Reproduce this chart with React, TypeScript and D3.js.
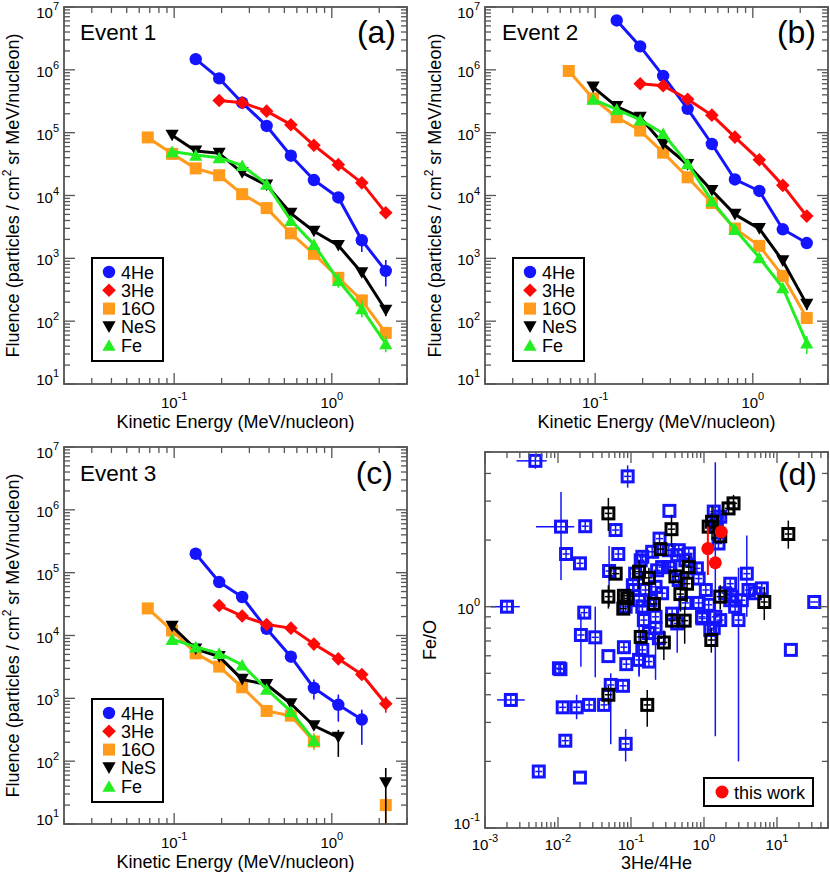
import React from "react";
import * as d3 from "d3";

const FONT = "'Liberation Sans', Arial, Helvetica, sans-serif";

// ---------- Spectra data (panels a-c) ----------
const energy = [0.068, 0.097, 0.137, 0.193, 0.27, 0.386, 0.55, 0.77, 1.1, 1.55, 2.2];
const species = ["4He", "3He", "16O", "NeS", "Fe"];
const speciesColors = ["#1414ff", "#ff0808", "#ff9a1a", "#000000", "#22ee22"];
const speciesMarkers = ["circle", "diamond", "square", "tdown", "tup"];

// Event 1
const e1He4 = [null, null, 1.48e6, 7.3e5, 3.0e5, 1.28e5, 4.3e4, 1.76e4, 9.3e3, 1.94e3, 630];
const e1He3 = [null, null, null, 3.25e5, 3.0e5, 2.2e5, 1.34e5, 6.3e4, 3.1e4, 1.59e4, 5.3e3];
const e1O16 = [8.4e4, 4.6e4, 2.7e4, 2.1e4, 1.05e4, 6.3e3, 2.5e3, 1.18e3, 490, 214, 65];
const e1NeS = [null, 9.1e4, 5.1e4, 4.7e4, 2.3e4, 1.46e4, 5.2e3, 2.7e3, 1.6e3, 590, 149];
const e1Fe = [null, 5.0e4, 4.4e4, 4.0e4, 3.0e4, 1.52e4, 4.0e3, 1.67e3, 445, 158, 44];
// [species index, energy index, low, high]
const e1Errors = [
  [0, 8, 7.6e3, 1.1e4], [0, 9, 1.26e3, 2.4e3], [0, 10, 357, 940],
  [4, 8, 340, 575], [4, 9, 115, 215], [4, 10, 32, 59], [3, 10, 120, 180], [2, 10, 52, 78],
];

// Event 2
const e2He4 = [null, null, 6.1e6, 2.36e6, 8.0e5, 2.4e5, 6.6e4, 1.8e4, 1.18e4, 2.9e3, 1.75e3];
const e2He3 = [null, null, null, 6.0e5, 5.6e5, 3.4e5, 1.9e5, 8.5e4, 3.7e4, 1.45e4, 4.7e3];
const e2O16 = [9.6e5, 3.5e5, 1.76e5, 1.08e5, 4.8e4, 1.95e4, 7.6e3, 2.98e3, 1.58e3, 525, 112];
const e2NeS = [null, 5.3e5, 2.6e5, 1.76e5, 6.6e4, 3.1e4, 1.2e4, 5.0e3, 2.96e3, 910, 185];
const e2Fe = [null, 3.4e5, 2.35e5, 1.6e5, 9.7e4, 3.2e4, 8.2e3, 2.9e3, 1.03e3, 340, 45];
const e2Errors = [[4, 10, 30, 58], [4, 9, 280, 400], [3, 10, 150, 225]];

// Event 3
const e3He4 = [null, null, 2.0e5, 7.1e4, 4.1e4, 1.28e4, 4.6e3, 1.46e3, 790, 460, null];
const e3He3 = [null, null, null, 3.0e4, 2.04e4, 1.5e4, 1.31e4, 7.3e3, 4.25e3, 2.4e3, 820];
const e3O16 = [2.7e4, 1.2e4, 5.2e3, 3.2e3, 1.5e3, 630, 530, 206, null, null, 20];
const e3NeS = [null, 1.4e4, 6.1e3, 4.6e3, 2.0e3, 1.66e3, 820, 366, 240, null, 45];
const e3Fe = [null, 8.7e3, 6.6e3, 5.2e3, 3.4e3, 1.4e3, 620, 215, null, null, null];
const e3Errors = [
  [0, 7, 955, 2.0e3], [0, 8, 425, 1150], [0, 9, 182, 660], [1, 10, 590, 1070],
  [3, 8, 117, 316], [3, 10, 10, 78], [2, 10, 10, 27], [2, 7, 150, 280], [4, 7, 160, 260],
];

const energyDomain = [0.02, 3];
const fluenceDomain = [10, 1e7];

// ---------- Scatter data (panel d) ----------
const blueX = [
  0.0049, 0.090, 0.011, 0.0236, 0.0129, 0.020, 0.0020, 0.00226, 0.0103, 0.0108,
  0.0116, 0.018, 0.0267, 0.0428, 0.0126, 0.00545, 0.020, 0.0845, 0.0229, 0.0206,
  0.0324, 0.049, 0.080, 0.0863, 0.0777, 0.0528, 0.0615, 0.067, 0.0501, 0.336,
  0.246, 0.195, 0.136, 0.106, 0.129, 0.143, 0.150, 0.217, 0.267, 0.33,
  0.452, 0.62, 0.80, 0.45, 0.217, 0.228, 0.114, 0.176, 0.129, 0.176,
  0.241, 0.366, 0.43, 0.556, 0.845, 0.94, 1.43, 1.36, 1.16, 1.36,
  1.50, 1.58, 2.29, 2.67, 2.97, 3.86, 4.07, 6.2, 15.5, 32.4,
  1.95, 2.4, 0.143, 0.33, 0.347, 0.11, 0.158, 0.185, 0.0845, 0.43,
  0.556, 0.267, 1.06, 0.95, 1.22, 1.67, 2.29, 3.3, 5.0, 0.845,
  1.43, 1.67, 0.143, 0.217,
];
const blueY = [
  4.56, 3.88, 2.30, 2.31, 1.73, 1.57, 1.0, 0.379, 0.527, 0.522,
  0.351, 0.351, 0.36, 0.36, 0.248, 0.180, 0.169, 0.240, 0.94, 0.745,
  0.727, 0.598, 0.656, 0.55, 0.439, 0.443, 2.22, 1.73, 1.45, 2.71,
  2.03, 1.77, 1.62, 1.25, 1.07, 1.0, 0.87, 0.90, 1.15, 1.51,
  1.80, 1.74, 1.49, 1.32, 1.23, 1.46, 1.41, 0.76, 0.575, 0.565,
  0.72, 0.93, 0.84, 1.04, 1.04, 0.90, 0.90, 0.80, 1.02, 2.69,
  2.46, 1.93, 1.27, 1.0, 0.87, 1.41, 1.19, 1.21, 0.638, 1.05,
  1.15, 1.11, 1.68, 1.80, 1.51, 1.19, 1.19, 1.07, 1.0, 1.71,
  1.62, 1.51, 1.19, 0.885, 0.785, 0.87, 1.07, 1.07, 1.15, 1.34,
  2.30, 2.55, 0.638, 0.80,
];
// [index, yLow, yHigh, xLow, xHigh] (null = only the small bar inside the box)
const blueErrors = [
  [0, 4.2, 4.9, 0.0027, 0.0070], [1, 3.45, 4.35, null, null], [2, 1.32, 3.30, 0.0050, 0.0167],
  [6, null, null, 0.0012, 0.0030], [7, null, null, 0.00146, 0.0035], [11, 0.31, 0.40, null, null],
  [17, 0.20, 0.28, null, null], [19, 0.536, 0.93, null, null], [20, 0.48, 1.0, null, null],
  [25, 0.239, 0.50, null, null], [28, 1.0, 1.88, null, null], [34, 0.483, 1.25, null, null],
  [37, 0.467, 1.05, null, null], [56, 0.26, 4.5, null, null], [64, 0.20, 1.5, null, null],
  [65, 0.9, 2.1, null, null], [52, 0.62, 1.0, null, null], [48, 0.49, 0.70, null, null],
  [69, 1.05, 1.05, 28.5, 36.5],
];
const blueNoBar = [16, 21, 29, 68];

const blackX = [
  0.049, 0.359, 0.254, 0.0617, 0.129, 0.176, 0.62, 0.406, 0.586, 0.475,
  0.049, 0.080, 0.089, 0.0785, 0.206, 0.136, 0.282, 0.366, 0.544, 0.049,
  0.167, 1.26, 1.67, 6.7, 14.3, 1.29, 1.67, 2.17, 2.54, 1.16,
];
const blackY = [
  2.64, 2.24, 1.82, 1.41, 1.44, 1.35, 1.51, 1.37, 1.27, 1.14,
  1.11, 1.12, 1.09, 0.98, 1.03, 0.73, 0.689, 0.865, 0.865, 0.40,
  0.36, 0.707, 1.11, 1.05, 2.13, 2.42, 2.08, 2.78, 2.93, 2.30,
];
const blackErrors = [
  [0, 2.2, 3.1], [1, 1.86, 2.6], [24, 1.83, 2.45], [23, 0.87, 1.23], [21, 0.62, 0.80],
  [20, 0.287, 0.42], [16, 0.575, 0.78], [18, 0.68, 1.0], [25, 2.0, 2.85], [28, 2.6, 3.2],
  [22, 0.97, 1.25], [10, 0.98, 1.25], [19, 0.36, 0.44], [4, 1.2, 1.62], [5, 1.1, 1.5],
  [6, 1.35, 1.7], [8, 1.05, 1.45], [9, 0.95, 1.3],
];

const redX = [1.13, 1.43, 1.72];
const redY = [1.83, 1.58, 2.18];
const redYLo = [1.39, 1.5, 2.1];
const redYHi = [2.30, 1.66, 2.26];

const ratioXDomain = [0.001, 50];
const ratioYDomain = [0.1, 5];

// ---------- helpers ----------
const AXIS = "#555";

function logTicks(domain) {
  const [a, b] = domain;
  const majors = [];
  const minors = [];
  for (let n = Math.floor(Math.log10(a)); n <= Math.ceil(Math.log10(b)); n++) {
    for (let k = 1; k <= 9; k++) {
      const v = k * Math.pow(10, n);
      if (v >= a * 0.9999 && v <= b * 1.0001) (k === 1 ? majors : minors).push(v);
    }
  }
  return { majors, minors };
}

function Pow10({ v, x, y, anchor }) {
  const e = Math.round(Math.log10(v));
  return (
    <text x={x} y={y} fontSize={15} textAnchor={anchor} fill="#000">
      10<tspan dy={-8} fontSize={11}>{String(e)}</tspan>
    </text>
  );
}

function LogFrame({ xs, ys, box, xTickBase, yLabelRight }) {
  const xt = logTicks(xs.domain());
  const yt = logTicks(ys.domain());
  const { l, r, t, b } = box;
  const M = 11, m = 6;
  const out = [];
  xt.majors.forEach((v, i) => {
    const x = xs(v);
    out.push(<line key={"xM" + i} x1={x} x2={x} y1={b} y2={b - M} />);
    out.push(<line key={"xMt" + i} x1={x} x2={x} y1={t} y2={t + M} />);
  });
  xt.minors.forEach((v, i) => {
    const x = xs(v);
    out.push(<line key={"xm" + i} x1={x} x2={x} y1={b} y2={b - m} />);
    out.push(<line key={"xmt" + i} x1={x} x2={x} y1={t} y2={t + m} />);
  });
  yt.majors.forEach((v, i) => {
    const y = ys(v);
    out.push(<line key={"yM" + i} x1={l} x2={l + M} y1={y} y2={y} />);
    out.push(<line key={"yMr" + i} x1={r} x2={r - M} y1={y} y2={y} />);
  });
  yt.minors.forEach((v, i) => {
    const y = ys(v);
    out.push(<line key={"ym" + i} x1={l} x2={l + m} y1={y} y2={y} />);
    out.push(<line key={"ymr" + i} x1={r} x2={r - m} y1={y} y2={y} />);
  });
  return (
    <g>
      <g stroke={AXIS} strokeWidth={1.3}>{out}</g>
      <rect x={l} y={t} width={r - l} height={b - t} fill="none" stroke={AXIS} strokeWidth={1.8} />
      {xt.majors.map((v, i) => (
        <Pow10 key={"xl" + i} v={v} x={xs(v)} y={xTickBase} anchor="middle" />
      ))}
      {yt.majors.map((v, i) => (
        <Pow10
          key={"yl" + i}
          v={v}
          x={yLabelRight}
          y={Math.min(Math.max(ys(v) + 7, t + 11), b + 1)}
          anchor="end"
        />
      ))}
    </g>
  );
}

function Marker({ type, x, y, color }) {
  switch (type) {
    case "circle":
      return <circle cx={x} cy={y} r={6.2} fill={color} />;
    case "diamond":
      return <path d={`M${x},${y - 6.8}L${x + 6.8},${y}L${x},${y + 6.8}L${x - 6.8},${y}Z`} fill={color} />;
    case "square":
      return <rect x={x - 6} y={y - 6} width={12} height={12} fill={color} />;
    case "tdown":
      return <path d={`M${x - 6.6},${y - 5.6}L${x + 6.6},${y - 5.6}L${x},${y + 6}Z`} fill={color} />;
    default:
      return <path d={`M${x - 6.6},${y + 5.6}L${x + 6.6},${y + 5.6}L${x},${y - 6}Z`} fill={color} />;
  }
}

function SpectraPanel({ id, box, seriesList, errors, event, tag, yLabelX, xTickBase, xLabelBase, eventPos, tagPos, legendPos }) {
  const xs = d3.scaleLog().domain(energyDomain).range([box.l, box.r]);
  const ys = d3.scaleLog().domain(fluenceDomain).range([box.b, box.t]);
  const line = d3
    .line()
    .defined((d) => d[1] != null)
    .x((d) => xs(d[0]))
    .y((d) => ys(d[1]));
  const cy = (box.t + box.b) / 2;
  const cx = (box.l + box.r) / 2;
  return (
    <g>
      <defs>
        <clipPath id={id}>
          <rect x={box.l} y={box.t} width={box.r - box.l} height={box.b - box.t} />
        </clipPath>
      </defs>
      <text x={eventPos[0]} y={eventPos[1]} fontSize={22.5}>{event}</text>
      <text x={tagPos[0]} y={tagPos[1]} fontSize={32} textAnchor="end">{tag}</text>
      <g clipPath={`url(#${id})`}>
        {seriesList.map((vals, si) => {
          const pts = energy.map((e, i) => [e, vals[i]]);
          const color = speciesColors[si];
          return (
            <g key={si}>
              <path d={line(pts)} fill="none" stroke={color} strokeWidth={3} strokeLinejoin="round" />
              {errors
                .filter((er) => er[0] === si)
                .map((er, k) => (
                  <line key={k} x1={xs(energy[er[1]])} x2={xs(energy[er[1]])} y1={ys(er[2])} y2={ys(er[3])} stroke={color} strokeWidth={1.6} />
                ))}
              {pts
                .filter((p) => p[1] != null)
                .map((p, k) => (
                  <Marker key={k} type={speciesMarkers[si]} x={xs(p[0])} y={ys(p[1])} color={color} />
                ))}
            </g>
          );
        })}
      </g>
      <LogFrame xs={xs} ys={ys} box={box} xTickBase={xTickBase} yLabelRight={box.l - 5} />
      <text x={cx} y={xLabelBase} fontSize={18} textAnchor="middle">Kinetic Energy (MeV/nucleon)</text>
      <text transform={`translate(${yLabelX},${cy}) rotate(-90)`} fontSize={18} textAnchor="middle">
        Fluence (particles / cm<tspan dy={-8} fontSize={12}>2</tspan>
        <tspan dy={8}> sr MeV/nucleon)</tspan>
      </text>
      <g>
        <rect x={legendPos[0]} y={legendPos[1]} width={71} height={103} fill="#fff" stroke="#000" strokeWidth={2} />
        {species.map((s, i) => {
          const ry = legendPos[1] + 14 + i * 18.3;
          return (
            <g key={s}>
              <Marker type={speciesMarkers[i]} x={legendPos[0] + 17} y={ry} color={speciesColors[i]} />
              <text x={legendPos[0] + 29} y={ry + 6.5} fontSize={18}>{s}</text>
            </g>
          );
        })}
      </g>
    </g>
  );
}

function ScatterPanel() {
  const box = { l: 485, r: 828, t: 452, b: 828 };
  const xs = d3.scaleLog().domain(ratioXDomain).range([box.l, box.r]);
  const ys = d3.scaleLog().domain(ratioYDomain).range([box.b, box.t]);
  const S = 11;
  const drawSet = (X, Y, color, errs, noBar, prefix) =>
    X.map((xv, i) => {
      const px = xs(xv);
      const py = ys(Y[i]);
      const er = errs.find((e) => e[0] === i);
      const bars = [];
      if (!noBar.includes(i)) {
        const y1 = er && er[1] != null ? ys(er[1]) : py + 4.5;
        const y2 = er && er[2] != null ? ys(er[2]) : py - 4.5;
        const x1 = er && er[3] != null ? xs(er[3]) : px - 3.5;
        const x2 = er && er[4] != null ? xs(er[4]) : px + 3.5;
        bars.push(<line key="v" x1={px} x2={px} y1={y1} y2={y2} />);
        bars.push(<line key="h" x1={x1} x2={x2} y1={py} y2={py} />);
      }
      return (
        <g key={prefix + i}>
          <g stroke={color} strokeWidth={1.5}>{bars}</g>
          <rect x={px - S / 2} y={py - S / 2} width={S} height={S} fill="none" stroke={color} strokeWidth={3} />
        </g>
      );
    });
  const blackErrs = blackErrors.map((e) => [e[0], e[1], e[2], null, null]);
  return (
    <g>
      <defs>
        <clipPath id="clipD">
          <rect x={box.l} y={box.t} width={box.r - box.l} height={box.b - box.t} />
        </clipPath>
      </defs>
      <g clipPath="url(#clipD)">
        {drawSet(blueX, blueY, "#1414ff", blueErrors, blueNoBar, "b")}
        {drawSet(blackX, blackY, "#000", blackErrs, [], "k")}
        {redX.map((xv, i) => (
          <g key={"r" + i}>
            <line x1={xs(xv)} x2={xs(xv)} y1={ys(redYLo[i])} y2={ys(redYHi[i])} stroke="#ff0808" strokeWidth={2} />
            <circle cx={xs(xv)} cy={ys(redY[i])} r={6.5} fill="#ff0808" />
          </g>
        ))}
      </g>
      <LogFrame xs={xs} ys={ys} box={box} xTickBase={850} yLabelRight={box.l - 5} />
      <text x={817} y={485} fontSize={32} textAnchor="end">(d)</text>
      <text x={(box.l + box.r) / 2} y={869} fontSize={18} textAnchor="middle">3He/4He</text>
      <text transform={`translate(436,${(box.t + box.b) / 2}) rotate(-90)`} fontSize={18} textAnchor="middle">Fe/O</text>
      <rect x={704} y={778} width={109} height={28} fill="#fff" stroke="#000" strokeWidth={2} />
      <circle cx={722} cy={792} r={6.5} fill="#ff0808" />
      <text x={734} y={798.5} fontSize={18}>this work</text>
    </g>
  );
}

export default function App() {
  return (
    <svg
      width={830}
      height={873}
      viewBox="0 0 830 873"
      style={{ position: "absolute", left: 0, top: 0, background: "#fff" }}
      fontFamily={FONT}
    >
      <rect width={830} height={873} fill="#fff" />
      <SpectraPanel
        id="clipA"
        box={{ l: 64, r: 407, t: 7, b: 384 }}
        seriesList={[e1He4, e1He3, e1O16, e1NeS, e1Fe]}
        errors={e1Errors}
        event="Event 1"
        tag="(a)"
        yLabelX={19}
        xTickBase={408}
        xLabelBase={428}
        eventPos={[80, 40]}
        tagPos={[396, 43]}
        legendPos={[92, 258]}
      />
      <SpectraPanel
        id="clipB"
        box={{ l: 485, r: 828, t: 7, b: 384 }}
        seriesList={[e2He4, e2He3, e2O16, e2NeS, e2Fe]}
        errors={e2Errors}
        event="Event 2"
        tag="(b)"
        yLabelX={441}
        xTickBase={408}
        xLabelBase={428}
        eventPos={[502, 40]}
        tagPos={[816, 43]}
        legendPos={[513, 258]}
      />
      <SpectraPanel
        id="clipC"
        box={{ l: 64, r: 407, t: 447, b: 824 }}
        seriesList={[e3He4, e3He3, e3O16, e3NeS, e3Fe]}
        errors={e3Errors}
        event="Event 3"
        tag="(c)"
        yLabelX={19}
        xTickBase={848}
        xLabelBase={868}
        eventPos={[80, 481]}
        tagPos={[393, 484]}
        legendPos={[92, 699]}
      />
      <ScatterPanel />
    </svg>
  );
}
